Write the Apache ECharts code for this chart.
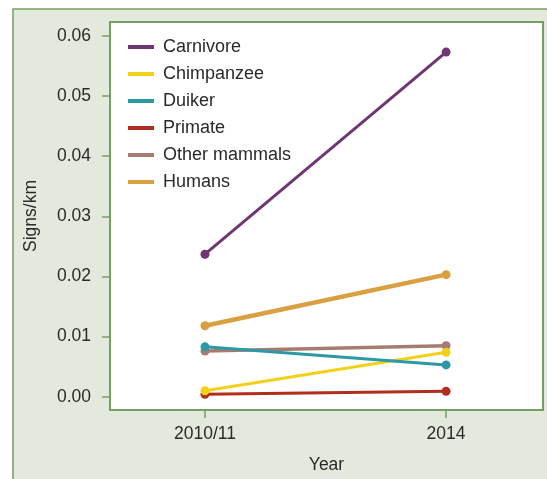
<!DOCTYPE html>
<html>
<head>
<meta charset="utf-8">
<script src="https://cdn.jsdelivr.net/npm/echarts@6/dist/echarts.min.js"></script>
<style>
  html, body { margin: 0; padding: 0; background: #fff; }
  #chart { width: 547px; height: 479px; }
</style>
</head>
<body>
<div id="chart"></div>
<script>
const years = ['2010/11', '2014']
const yTicks = [0, 0.01, 0.02, 0.03, 0.04, 0.05, 0.06]

const carnivore = [0.0237, 0.0573]
const chimpanzee = [0.0010, 0.0074]
const duiker = [0.0083, 0.0053]
const primate = [0.0004, 0.0009]
const otherMammals = [0.0076, 0.0085]
const humans = [0.0118, 0.0203]

const green = '#76a060'
const textColor = '#2a2a2a'
const font = 'Liberation Sans, Arial, sans-serif'

const chart = echarts.init(document.getElementById('chart'))

const makeSeries = (name, values, color, width) => ({
  name: name,
  type: 'line',
  data: values.map((v, i) => [i, v]),
  symbol: 'circle',
  symbolSize: 9,
  color: color,
  lineStyle: { width: width, color: color },
  itemStyle: { color: color },
  emphasis: { disabled: true },
  animation: false
})

const option = {
  backgroundColor: '#ffffff',
  graphic: [
    {
      type: 'rect',
      z: -10,
      shape: { x: 13, y: 9, width: 560, height: 500 },
      style: { fill: '#e3e9dc', stroke: green, lineWidth: 1.5 }
    }
  ],
  legend: {
    orient: 'vertical',
    left: 128,
    top: 38,
    padding: 0,
    itemWidth: 26,
    itemHeight: 4,
    itemGap: 9,
    icon: 'rect',
    data: ['Carnivore', 'Chimpanzee', 'Duiker', 'Primate', 'Other mammals', 'Humans'],
    textStyle: {
      fontFamily: font,
      fontSize: 18,
      lineHeight: 18,
      color: textColor,
      padding: [0, 0, 0, 4]
    }
  },
  grid: {
    left: 110,
    top: 22,
    right: 4,
    bottom: 69,
    show: true,
    backgroundColor: '#ffffff',
    borderColor: green,
    borderWidth: 2
  },
  xAxis: {
    type: 'value',
    min: -0.394,
    max: 1.402,
    name: 'Year',
    nameLocation: 'middle',
    nameGap: 46,
    nameTextStyle: { fontFamily: font, fontSize: 17.5, color: textColor },
    splitLine: { show: false },
    axisLine: { show: false, onZero: false },
    axisTick: {
      show: true,
      length: 8,
      customValues: [0, 1],
      lineStyle: { color: green, width: 1.5 }
    },
    axisLabel: {
      customValues: [0, 1],
      margin: 15,
      fontFamily: font,
      fontSize: 17.5,
      color: textColor,
      formatter: (v) => years[Math.round(v)]
    }
  },
  yAxis: {
    type: 'value',
    min: -0.0022,
    max: 0.0623,
    name: 'Signs/km',
    nameLocation: 'middle',
    nameGap: 70,
    nameRotate: 90,
    nameTextStyle: { fontFamily: font, fontSize: 17.5, color: textColor },
    splitLine: { show: false },
    axisLine: { show: false, onZero: false },
    axisTick: {
      show: true,
      length: 8,
      customValues: yTicks,
      lineStyle: { color: green, width: 1.5 }
    },
    axisLabel: {
      customValues: yTicks,
      margin: 19,
      fontFamily: font,
      fontSize: 17.5,
      color: textColor,
      formatter: (v) => v.toFixed(2)
    }
  },
  series: [
    makeSeries('Carnivore', carnivore, '#6f3674', 3),
    makeSeries('Primate', primate, '#b12d1c', 3),
    makeSeries('Other mammals', otherMammals, '#a77c70', 3.5),
    makeSeries('Chimpanzee', chimpanzee, '#f4d118', 3),
    makeSeries('Duiker', duiker, '#2c9aa6', 3),
    makeSeries('Humans', humans, '#d9a041', 4.5)
  ]
}

chart.setOption(option)

window.addEventListener('resize', () => {
  chart.resize()
})
</script>
</body>
</html>
